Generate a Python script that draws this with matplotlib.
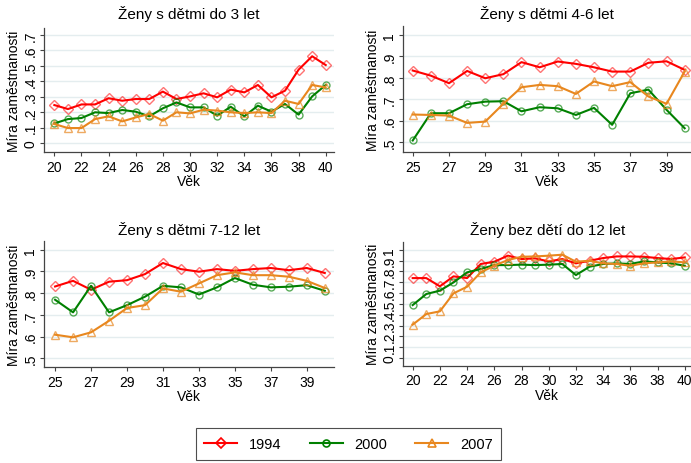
import matplotlib
matplotlib.use('Agg')
import matplotlib.pyplot as plt
from matplotlib.lines import Line2D

plt.rcParams['font.family'] = ['Liberation Sans', 'DejaVu Sans']

# data: employment rate by age, three survey years
years = ['1994', '2000', '2007']

age_a = list(range(20, 41))
p1_1994 = [0.246, 0.22, 0.25, 0.25, 0.29, 0.274, 0.285, 0.285, 0.333, 0.285, 0.302,
           0.322, 0.296, 0.346, 0.328, 0.376, 0.296, 0.339, 0.475, 0.562, 0.505]
p1_2000 = [0.127, 0.155, 0.162, 0.199, 0.194, 0.214, 0.203, 0.173, 0.225, 0.263, 0.231,
           0.231, 0.177, 0.235, 0.173, 0.242, 0.203, 0.253, 0.184, 0.302, 0.376]
p1_2007 = [0.123, 0.097, 0.097, 0.155, 0.173, 0.14, 0.166, 0.188, 0.145, 0.199, 0.192,
           0.216, 0.21, 0.199, 0.194, 0.199, 0.194, 0.274, 0.253, 0.376, 0.36]

age_b = list(range(25, 41))
p2_1994 = [0.834, 0.81, 0.775, 0.832, 0.798, 0.817, 0.873, 0.849, 0.876, 0.865, 0.849,
           0.829, 0.829, 0.87, 0.877, 0.837]
p2_2000 = [0.508, 0.635, 0.635, 0.677, 0.689, 0.691, 0.644, 0.663, 0.658, 0.627, 0.66,
           0.581, 0.728, 0.745, 0.651, 0.565]
p2_2007 = [0.629, 0.627, 0.624, 0.59, 0.596, 0.679, 0.756, 0.767, 0.761, 0.725, 0.783,
           0.761, 0.78, 0.713, 0.679, 0.829]

p3_1994 = [0.831, 0.857, 0.816, 0.853, 0.86, 0.888, 0.939, 0.911, 0.899, 0.911, 0.903,
           0.911, 0.916, 0.906, 0.916, 0.893]
p3_2000 = [0.77, 0.712, 0.834, 0.712, 0.745, 0.784, 0.834, 0.827, 0.794, 0.827, 0.87,
           0.839, 0.827, 0.83, 0.837, 0.811]
p3_2007 = [0.609, 0.597, 0.62, 0.673, 0.732, 0.745, 0.822, 0.807, 0.845, 0.883, 0.896,
           0.883, 0.883, 0.876, 0.857, 0.824]

p4_1994 = [0.738, 0.738, 0.662, 0.754, 0.738, 0.868, 0.889, 0.945, 0.914, 0.92, 0.892,
           0.914, 0.874, 0.898, 0.923, 0.938, 0.938, 0.935, 0.923, 0.914, 0.929]
p4_2000 = [0.489, 0.591, 0.622, 0.698, 0.791, 0.822, 0.858, 0.858, 0.862, 0.858, 0.862,
           0.868, 0.766, 0.843, 0.868, 0.874, 0.868, 0.892, 0.883, 0.874, 0.852]
p4_2007 = [0.308, 0.406, 0.431, 0.597, 0.658, 0.791, 0.852, 0.905, 0.935, 0.938, 0.945,
           0.954, 0.889, 0.898, 0.874, 0.868, 0.852, 0.874, 0.883, 0.892, 0.883]

titles = ['Ženy s dětmi do 3 let', 'Ženy s dětmi 4-6 let',
          'Ženy s dětmi 7-12 let', 'Ženy bez dětí do 12 let']

line_colors = ['#ff0000', '#008000', '#e8871e']
edge_colors = [(1, 0, 0, 0.55), (0, 0.5, 0, 0.65), (0.91, 0.53, 0.12, 0.7)]
markers = ['D', 'o', '^']
msizes = [5.5, 5, 5.5]

W, H = 691, 464
fig = plt.figure(figsize=(W / 100, H / 100), dpi=100)


def px_axes(left, right, top, bottom):
    return fig.add_axes([left / W, 1 - bottom / H, (right - left) / W, (bottom - top) / H])


def draw_panel(ax, x, series, title, title_y, xticks, yticks, ylabels, xlim, ylim):
    for g in yticks:
        ax.axhline(g, color='#e4edef', lw=1, zorder=0)
    for s, c, ec, m, ms in zip(series, line_colors, edge_colors, markers, msizes):
        ax.plot(x, s, color=c, lw=1.5, marker=m, ms=ms, mfc='none', mec=ec, mew=1)
    ax.set_xlim(xlim)
    ax.set_ylim(ylim)
    ax.set_xticks(xticks)
    ax.set_yticks(yticks)
    ax.set_yticklabels(ylabels, rotation=90, va='center')
    ax.tick_params(labelsize=10, length=3, width=0.8, color='#444444', pad=2)
    ax.tick_params(axis='x', pad=2.4)
    for side in ['top', 'right']:
        ax.spines[side].set_visible(False)
    for side in ['left', 'bottom']:
        ax.spines[side].set_color('#444444')
        ax.spines[side].set_linewidth(0.9)
    ax.set_xlabel('Věk', fontsize=10, labelpad=0.5)
    ax.set_ylabel('Míra zaměstnanosti', fontsize=10, labelpad=2)
    # title placed by its baseline, centred over the plot area
    bb = ax.get_position()
    fig.text((bb.x0 + bb.x1) / 2, 1 - title_y / H, title, ha='center', va='baseline',
             fontsize=11)


lab07 = ['0', '.1', '.2', '.3', '.4', '.5', '.6', '.7']
lab51 = ['.5', '.6', '.7', '.8', '.9', '1']
lab01 = ['0', '.1', '.2', '.3', '.4', '.5', '.6', '.7', '.8', '.9', '1']

ax1 = px_axes(44.3, 334, 29.3, 153.3)
draw_panel(ax1, age_a, [p1_1994, p1_2000, p1_2007], titles[0], 19.3, range(20, 41, 2),
           [i / 10 for i in range(8)], lab07, (19.26, 40.61), (-0.06, 0.743))

ax2 = px_axes(403.3, 691, 27.3, 153.3)
draw_panel(ax2, age_b, [p2_1994, p2_2000, p2_2007], titles[1], 19.3, range(25, 40, 2),
           [0.5, 0.6, 0.7, 0.8, 0.9, 1.0], lab51, (24.48, 40.35), (0.453, 1.04))

ax3 = px_axes(44.3, 334.3, 242.3, 368.3)
draw_panel(ax3, age_b, [p3_1994, p3_2000, p3_2007], titles[2], 235.5, range(25, 40, 2),
           [0.5, 0.6, 0.7, 0.8, 0.9, 1.0], lab51, (24.4, 40.53), (0.459, 1.039))

ax4 = px_axes(403.3, 691, 242.7, 366.7)
draw_panel(ax4, age_a, [p4_1994, p4_2000, p4_2007], titles[3], 235.5, range(20, 41, 2),
           [i / 10 for i in range(11)], lab01, (19.31, 40.46), (-0.071, 1.074))

# legend at the bottom
handles = [Line2D([], [], color=c, lw=1.5, marker=m, ms=ms, mfc='none', mec=c, mew=1.2)
           for c, m, ms in zip(line_colors, markers, msizes)]
leg = fig.legend(handles, years, loc='upper center', bbox_to_anchor=(348.5 / W, 1 - 429.3 / H),
                 ncol=3, fontsize=10.5, frameon=True, fancybox=False, handlelength=2.25,
                 handletextpad=0.8, columnspacing=1.95, borderpad=0.6, borderaxespad=0)
leg.get_frame().set_edgecolor('#222222')
leg.get_frame().set_linewidth(0.8)

fig.savefig('out.png', dpi=100)
